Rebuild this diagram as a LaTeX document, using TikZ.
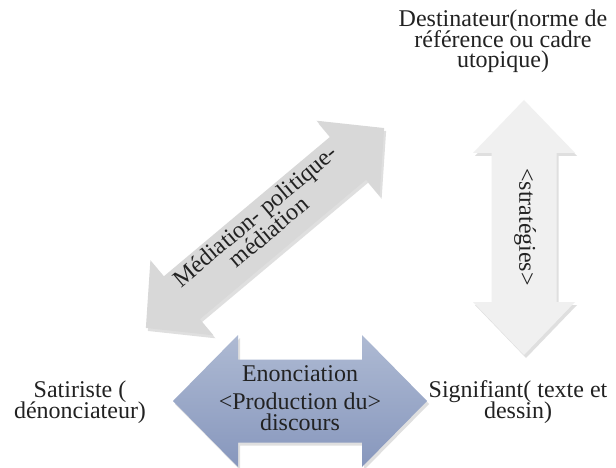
\documentclass[tikz,border=0pt]{standalone}
\usepackage{fontspec}
\setmainfont{Liberation Serif}
\usetikzlibrary{shadows}
\definecolor{txt}{HTML}{222222}
\definecolor{diaggrey}{HTML}{D8D8D8}
\definecolor{vertgrey}{HTML}{F0F0F0}
\definecolor{blueA}{HTML}{AEBAD3}
\definecolor{blueB}{HTML}{8797BD}
\newcommand\dblarrowpath[4]{(-#1,0) -- (-#1+#2,#3) -- (-#1+#2,#4) -- (#1-#2,#4) -- (#1-#2,#3) -- (#1,0) -- (#1-#2,-#3) -- (#1-#2,-#4) -- (-#1+#2,-#4) -- (-#1+#2,-#3) -- cycle}
\tikzset{
  lbl/.style={font=\fontsize{24}{21}\selectfont, text=txt, inner sep=0pt, anchor=base},
  shd/.style={drop shadow={opacity=0.25, shadow xshift=2pt, shadow yshift=-3pt}},
}
\begin{document}
\begin{tikzpicture}[x=1pt,y=1pt]
\useasboundingbox[fill=white] (0,0) rectangle (616,-468);

% diagonal arrow
\begin{scope}[shift={(265,-228)},rotate=40]
  \fill[diaggrey, shd] \dblarrowpath{155.5}{47}{49}{28};
\end{scope}
% vertical arrow
\begin{scope}[shift={(524,-227.5)},rotate=90]
  \fill[vertgrey, shd] \dblarrowpath{127.5}{53}{51}{32.5};
\end{scope}
% horizontal arrow
\begin{scope}[shift={(300,-401)}]
  \shade[top color=blueA, bottom color=blueB, shd] \dblarrowpath{127}{65}{66}{41.5};
\end{scope}

% labels
\node[lbl] (d1) at (503,-27) {Destinateur(norme de};
\node[lbl] (d2) at (503,-48) {référence ou cadre};
\node[lbl] (d3) at (503,-68) {utopique)};

\node[lbl] (s1) at (80,-397) {Satiriste (};
\node[lbl] (s2) at (80,-418) {dénonciateur)};

\node[lbl] (g1) at (518,-397) {Signifiant( texte et};
\node[lbl] (g2) at (518,-418) {dessin)};

\node[lbl] (e1) at (300,-381) {Enonciation};
\node[lbl] (e2) at (300,-409) {<Production du>};
\node[lbl] (e3) at (300,-430) {discours};

\begin{scope}[shift={(265,-228)},rotate=40,transform shape]
  \node[lbl] (m1) at (0,7.8) {Médiation- politique-};
  \node[lbl] (m2) at (0,-13.2) {médiation};
\end{scope}

\node[lbl, anchor=center, rotate=-90] (st) at (525,-227) {<stratégies>};
\end{tikzpicture}
\end{document}
